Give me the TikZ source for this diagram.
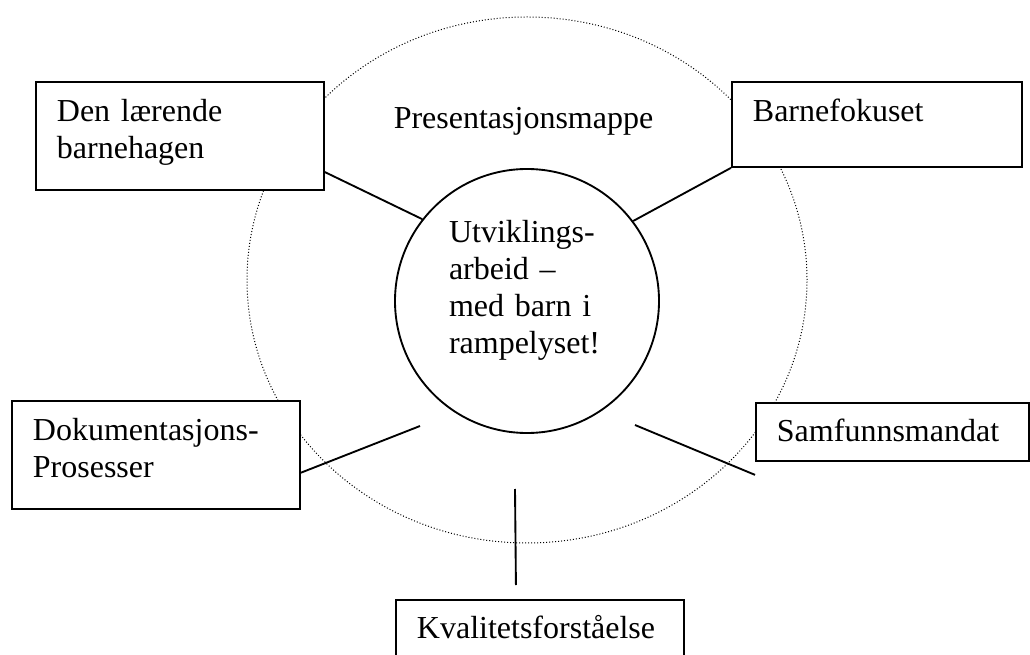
\documentclass[tikz,border=0pt]{standalone}
\usepackage{fontspec}
\setmainfont{Liberation Serif}
\usepackage{tikz}

\begin{document}
\begin{tikzpicture}[
    x=0.75pt, y=-0.75pt,
    txt/.style={font=\fontsize{24}{27.75}\selectfont},
    theme/.style={rectangle, draw, line width=1.4pt, fill=white, txt,
                  anchor=north west, align=left, inner xsep=15.75pt, inner ysep=0pt,
                  text width=184.5pt, text height=30pt, text depth=51pt},
    hubnode/.style={circle, draw, line width=1.4pt, fill=white, txt,
                    minimum size=198pt, inner sep=0pt, align=left,
                    text width=117pt, text height=16.5pt, text depth=103.5pt},
    link/.style={line width=1.4pt},
    ring/.style={line width=0.75pt, dash pattern=on 0.75pt off 1.5pt}
]
\useasboundingbox (0,0) rectangle (1030,655);

% the folder round it all
\draw[ring] (527,280) ellipse [x radius=210pt, y radius=197.25pt];
\node[txt, anchor=base] (mappe) at (523.5,129) {Presentasjonsmappe};

\node[hubnode] (hub) at (527,301) {Utviklings-\\arbeid --\\med barn i\\rampelyset!};

\node[theme] (lering) at (35,81) {Den lærende\\barnehagen};
\node[theme, text width=186pt, text depth=33.75pt] (fokus) at (731,81) {Barnefokuset};
\node[theme] (dok) at (11,400) {Dokumentasjons-\\Prosesser};
\node[theme, text width=173.25pt, text height=29.25pt, text depth=14.25pt] (mandat) at (755,402) {Samfunnsmandat};
\node[theme, text height=29.25pt, text depth=37.5pt] (kval) at (395,599) {Kvalitetsforståelse};

\coordinate (dokend) at (420,426);
\coordinate (mandatend) at (635,425);
\coordinate (kvalend) at (515,489);

\draw[link] (lering.-14) -- (hub.142);
\draw[link] (fokus.south west) -- (hub.37.5);
\draw[link] (dok.-7.5) -- (dokend);
\draw[link] ([yshift=-9.75pt]mandat.south west) -- (mandatend);
\draw[link] ([xshift=-18pt, yshift=10.5pt]kval.north) -- (kvalend);

\end{tikzpicture}
\end{document}
